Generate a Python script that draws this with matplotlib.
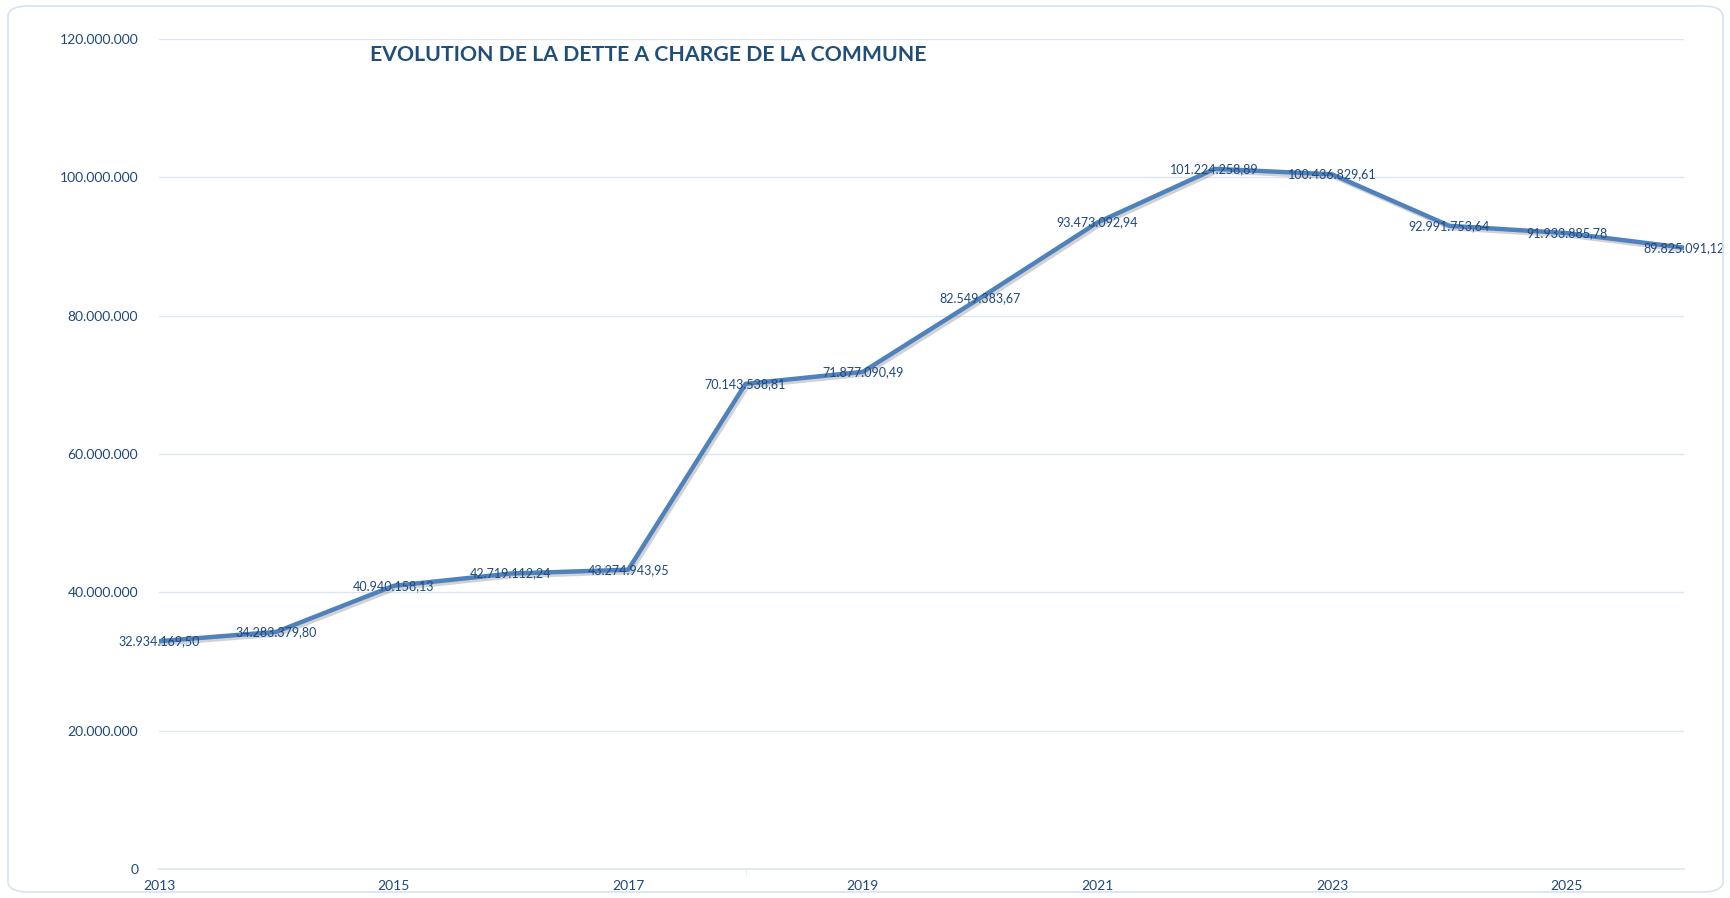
import matplotlib
matplotlib.use("Agg")
import matplotlib.pyplot as plt
import matplotlib.patheffects as pe
from matplotlib.patches import FancyBboxPatch
from matplotlib.ticker import FuncFormatter, MultipleLocator

years = [2013, 2014, 2015, 2016, 2017, 2018, 2019, 2020, 2021, 2022, 2023, 2024, 2025, 2026]
dette = [32934169.50, 34283379.80, 40940158.13, 42719112.24, 43274943.95, 70143538.81,
         71877090.49, 82549383.67, 93473092.94, 101224258.89, 100436829.61, 92991753.64,
         91933885.78, 89825091.12]
year_ticks = [2013, 2015, 2017, 2019, 2021, 2023, 2025]
mark_ticks = [2013, 2018, 2023]
title = "EVOLUTION DE LA DETTE A CHARGE DE LA COMMUNE"

LINE = "#4F81BD"
TXT = "#1F497D"
GRID = "#DCE6F2"

plt.rcParams["font.family"] = ["Lato", "DejaVu Sans"]


def fr_int(v, pos=None):
    return f"{int(round(v)):,}".replace(",", ".")


def fr_dec(v):
    s = f"{v:,.2f}"
    return s.replace(",", " ").replace(".", ",").replace(" ", ".")


fig = plt.figure(figsize=(17.31, 8.98), dpi=100)
ax = fig.add_axes([159 / 1731, 1 - 869 / 898, (1684 - 159) / 1731, (869 - 39) / 898])

# rounded outer frame
frame = FancyBboxPatch((8 / 1731, 6 / 898), 1 - 16 / 1731, 1 - 12 / 898,
                       boxstyle="round,pad=0,rounding_size=0.012",
                       transform=fig.transFigure, facecolor="none",
                       edgecolor="#D6E3F3", linewidth=1.2, zorder=0)
fig.patches.append(frame)

ax.plot(years, dette, color=LINE, linewidth=3.2, solid_joinstyle="round", zorder=3,
        path_effects=[pe.SimpleLineShadow(offset=(1.5, -1.8), shadow_color="gray", alpha=0.35),
                      pe.Normal()])

for x, y in zip(years, dette):
    ax.text(x, y, fr_dec(y), ha="center", va="center", fontsize=9, color=TXT,
            zorder=4, clip_on=False)

ax.set_xlim(2013, 2026)
ax.set_ylim(0, 120000000)
ax.yaxis.set_major_locator(MultipleLocator(20000000))
ax.yaxis.set_major_formatter(FuncFormatter(fr_int))
ax.set_xticks(year_ticks)
ax.set_xticklabels([str(y) for y in year_ticks])
ax.set_xticks(mark_ticks, minor=True)

ax.grid(axis="y", color=GRID, linewidth=1.0)
ax.set_axisbelow(True)
for side in ["top", "right", "left"]:
    ax.spines[side].set_visible(False)
ax.spines["bottom"].set_color(GRID)
ax.spines["bottom"].set_linewidth(1.2)

ax.tick_params(axis="y", length=0, pad=15, labelsize=10, labelcolor=TXT)
ax.tick_params(axis="x", which="major", length=0, pad=8, labelsize=10, labelcolor=TXT)
ax.tick_params(axis="x", which="minor", length=4, color=GRID)

fig.text(370 / 1731, 1 - 55 / 898, title, ha="left", va="center", fontsize=15.3,
         fontweight="bold", color="#1F4E79")

fig.savefig("out.png", dpi=100, facecolor="white")
